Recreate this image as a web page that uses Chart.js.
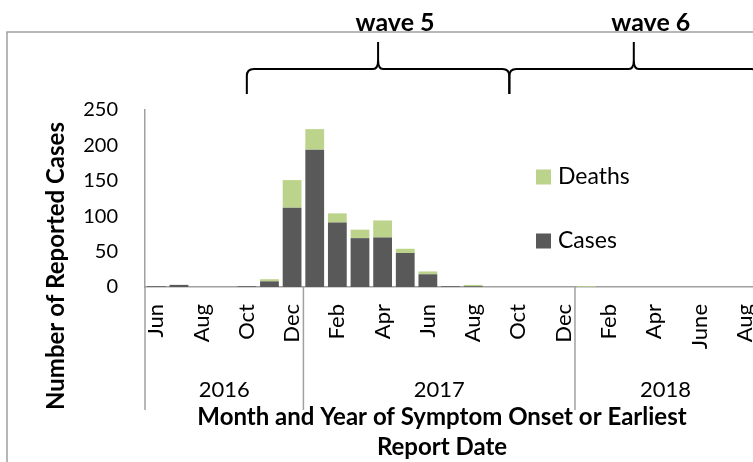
<!DOCTYPE html>
<html>
<head>
<meta charset="utf-8">
<script src="https://cdn.jsdelivr.net/npm/chart.js@4"></script>
<style>
  html, body { margin: 0; padding: 0; background: #fff; overflow: hidden; }
</style>
</head>
<body>
<canvas id="myChart" width="756" height="462"></canvas>
<script>
var categories = ['Jun 2016', 'Jul 2016', 'Aug 2016', 'Sep 2016', 'Oct 2016', 'Nov 2016', 'Dec 2016',
    'Jan 2017', 'Feb 2017', 'Mar 2017', 'Apr 2017', 'May 2017', 'Jun 2017', 'Jul 2017', 'Aug 2017',
    'Sep 2017', 'Oct 2017', 'Nov 2017', 'Dec 2017',
    'Jan 2018', 'Feb 2018', 'Mar 2018', 'Apr 2018', 'May 2018', 'Jun 2018', 'Jul 2018', 'Aug 2018'];
var tickLabels = ['Jun', '', 'Aug', '', 'Oct', '', 'Dec',
    '', 'Feb', '', 'Apr', '', 'Jun', '', 'Aug', '', 'Oct', '', 'Dec',
    '', 'Feb', '', 'Apr', '', 'June', '', 'Aug'];
var cases = [1, 3, 0, 0, 1, 8, 112, 194, 91, 69, 70, 48, 18, 1, 1, 0, 0, 0, 0, 0, 0, 0, 0, 0, 0, 0, 0];
var deaths = [0, 0, 0, 0, 0, 3, 39, 29, 13, 12, 24, 6, 4, 0, 2, 0, 0, 0, 0, 1, 0, 0, 0, 0, 0, 0, 0];

// year groups under the month labels (start index, end index exclusive)
var years = ['2016', '2017', '2018'];
var yearStart = [0, 7, 19];
var yearEnd = [7, 19, 27];

// braces above the chart, in category index units
var waves = ['wave 5', 'wave 6'];
var waveFrom = [4, 15.6];
var waveTo = [15.6, 26.6];

var font = 'Lato';
var gray = '#a0a0a0';

function brace(ctx, x1, x2, yh) {
    var xm = (x1 + x2) / 2;
    ctx.beginPath();
    ctx.moveTo(x1, yh + 25);
    ctx.lineTo(x1, yh + 7);
    ctx.quadraticCurveTo(x1, yh, x1 + 7, yh);
    ctx.lineTo(xm - 5, yh);
    ctx.quadraticCurveTo(xm, yh, xm, yh - 9);
    ctx.lineTo(xm, yh - 27);
    ctx.moveTo(xm, yh - 9);
    ctx.quadraticCurveTo(xm, yh, xm + 5, yh);
    ctx.lineTo(x2 - 7, yh);
    ctx.quadraticCurveTo(x2, yh, x2, yh + 7);
    ctx.lineTo(x2, yh + 25);
    ctx.stroke();
}

var extras = {
    id: 'extras',
    beforeDraw: function (chart) {
        var ctx = chart.ctx;
        ctx.save();
        ctx.strokeStyle = gray;
        ctx.lineWidth = 1.5;
        ctx.strokeRect(7, 32, 900, 600);
        ctx.restore();
    },
    afterDraw: function (chart) {
        var ctx = chart.ctx;
        var x = chart.scales.x;
        var area = chart.chartArea;
        ctx.save();

        // year separators and labels
        ctx.strokeStyle = gray;
        ctx.lineWidth = 1.5;
        ctx.fillStyle = '#000';
        ctx.font = '22px ' + font;
        ctx.textAlign = 'center';
        ctx.textBaseline = 'middle';
        for (var i = 0; i < years.length; i++) {
            var a = x.getPixelForValue(yearStart[i] - 0.5);
            var b = x.getPixelForValue(yearEnd[i] - 0.5);
            ctx.beginPath();
            ctx.moveTo(a, area.bottom);
            ctx.lineTo(a, 410);
            ctx.stroke();
            ctx.fillText(years[i], (a + b) / 2, 390);
        }

        // axis titles
        ctx.font = 'bold 24px ' + font;
        ctx.fillText('Month and Year of Symptom Onset or Earliest', 442, 417);
        ctx.fillText('Report Date', 442, 447);
        ctx.save();
        ctx.translate(56, 266);
        ctx.rotate(-Math.PI / 2);
        ctx.fillText('Number of Reported Cases', 0, 0);
        ctx.restore();

        // legend
        ctx.textAlign = 'left';
        ctx.font = '23px ' + font;
        var ds = chart.data.datasets;
        for (var j = ds.length - 1, k = 0; j >= 0; j--, k++) {
            var ly = 177 + k * 64;
            ctx.fillStyle = ds[j].backgroundColor;
            ctx.fillRect(536, ly - 7.5, 15, 15);
            ctx.fillStyle = '#000';
            ctx.fillText(ds[j].label, 558, ly);
        }

        // wave braces
        ctx.strokeStyle = '#000';
        ctx.lineWidth = 2;
        ctx.textAlign = 'center';
        ctx.textBaseline = 'alphabetic';
        ctx.font = 'bold 25px ' + font;
        for (var w = 0; w < waves.length; w++) {
            var x1 = x.getPixelForValue(waveFrom[w]);
            var x2 = x.getPixelForValue(waveTo[w]);
            brace(ctx, x1, x2, 69);
            ctx.fillText(waves[w], (x1 + x2) / 2 + 17, 31);
        }
        ctx.restore();
    }
};

var ctx = document.getElementById('myChart');
var myChart = new Chart(ctx, {
    type: 'bar',
    data: {
        labels: categories,
        datasets: [{
            label: 'Cases',
            backgroundColor: '#595959',
            data: cases
        }, {
            label: 'Deaths',
            backgroundColor: '#bcd38c',
            data: deaths
        }]
    },
    options: {
        responsive: false,
        animation: false,
        devicePixelRatio: 1,
        barPercentage: 0.83,
        categoryPercentage: 1,
        layout: {padding: {top: 110, left: 0, right: 0, bottom: 0}},
        plugins: {
            legend: {display: false},
            tooltip: {enabled: false}
        },
        scales: {
            x: {
                stacked: true,
                grid: {display: false, drawTicks: false},
                border: {color: gray, width: 1.5},
                ticks: {
                    autoSkip: false,
                    maxRotation: 90,
                    minRotation: 90,
                    padding: 17,
                    color: '#000',
                    font: {family: font, size: 22},
                    callback: function (v, i) { return tickLabels[i]; }
                },
                afterFit: function (s) {
                    s.height = 175;
                    s.paddingLeft = 0;
                    s.paddingRight = 0;
                }
            },
            y: {
                stacked: true,
                min: 0,
                max: 250,
                grid: {display: false, drawTicks: false},
                border: {color: gray, width: 1.5},
                ticks: {
                    stepSize: 50,
                    padding: 27,
                    color: '#000',
                    font: {family: font, size: 20}
                },
                afterFit: function (s) {
                    s.width = 145;
                    s.paddingTop = 0;
                    s.paddingBottom = 0;
                }
            }
        }
    },
    plugins: [extras]
});
</script>
</body>
</html>
